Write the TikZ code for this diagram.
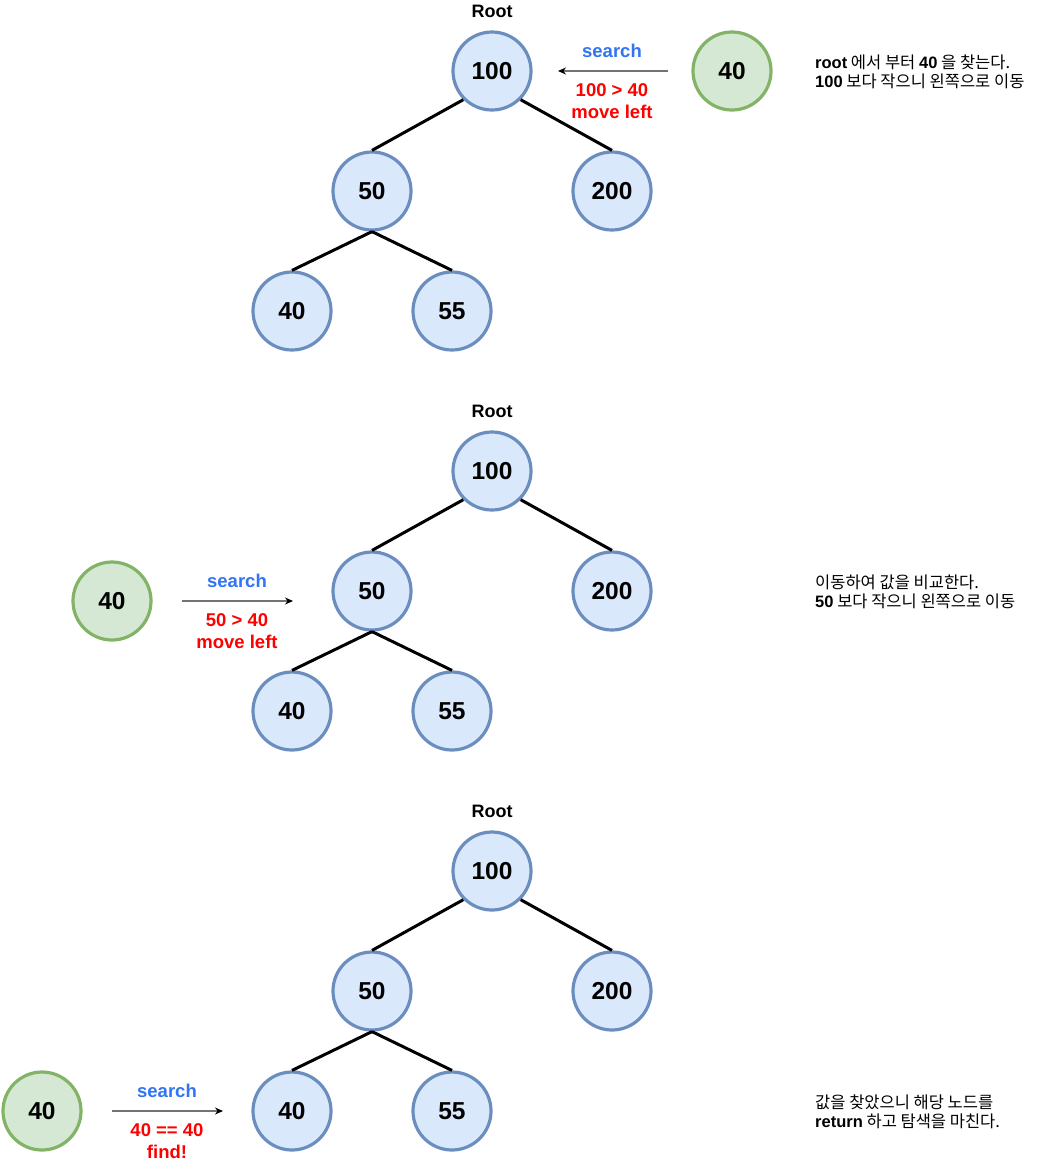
\documentclass[tikz,border=0pt]{standalone}
\usepackage{fontspec}
\setmainfont{Liberation Sans}
\newfontfamily\kr{Noto Sans CJK KR}
\usetikzlibrary{arrows.meta}
\definecolor{bfill}{HTML}{DAE8FC}
\definecolor{bline}{HTML}{6C8EBF}
\definecolor{gfill}{HTML}{D5E8D4}
\definecolor{gline}{HTML}{82B366}
\definecolor{sblue}{HTML}{3174F4}
\definecolor{sred}{HTML}{FF0000}
\newcommand\lb[1]{{\rmfamily\bfseries #1}}
\newcommand\bsttree[2]{%
  \node[rootlbl] (#1r) at (492,{11+#2}) {Root};
  \node[bnode] (#1a) at (492,{71+#2}) {100};
  \node[bnode] (#1b) at (372,{191+#2}) {50};
  \node[bnode] (#1c) at (612,{191+#2}) {200};
  \node[bnode] (#1d) at (292,{311+#2}) {40};
  \node[bnode] (#1e) at (452,{311+#2}) {55};
  \draw[edge] (#1a.225) -- (#1b.north);
  \draw[edge] (#1a.-45) -- (#1c.north);
  \draw[edge] (#1b.south) -- (#1d.north);
  \draw[edge] (#1b.south) -- (#1e.north);
}
\begin{document}
\begin{tikzpicture}[x=1pt,y=-1pt,
  bnode/.style={circle, draw=bline, fill=bfill, line width=3.2pt, minimum size=78pt, inner sep=0pt, font=\fontsize{24.5}{24.5}\selectfont\bfseries},
  gnode/.style={circle, draw=gline, fill=gfill, line width=3.2pt, minimum size=78pt, inner sep=0pt, font=\fontsize{24.5}{24.5}\selectfont\bfseries},
  rootlbl/.style={font=\fontsize{18}{18}\selectfont\bfseries, inner sep=0pt},
  edge/.style={line width=3pt, black},
  sarrow/.style={draw=black!55, line width=1.2pt, -{Stealth[black,length=8pt,width=7pt]}},
  slbl/.style={font=\fontsize{18.5}{18.5}\selectfont\bfseries, text=sblue, inner sep=0pt},
  rlbl/.style={font=\fontsize{18.5}{22}\selectfont\bfseries, text=sred, inner sep=0pt, align=center},
  note/.style={font=\kr\fontsize{16.5}{19.5}\selectfont, anchor=west, align=left, inner sep=0pt}
]
\useasboundingbox (0,0) rectangle (1053,1163);
\fill[white] (0,0) rectangle (1053,1163);

% ---- Tree 1
\bsttree{t}{0}
\node[gnode] (g1) at (732,71) {40};
\coordinate (g1s) at (668,71);
\coordinate (g1e) at (558,71);
\draw[sarrow] (g1s) -- (g1e);
\node[slbl] (s1) at (612,51) {search};
\node[rlbl] (r1) at (612,101) {100 > 40\\move left};
\node[note] (n1) at (815,72) {\lb{root} 에서 부터 \lb{40} 을 찾는다.\\\lb{100} 보다 작으니 왼쪽으로 이동};

% ---- Tree 2
\bsttree{u}{400}
\node[gnode] (g2) at (112,601) {40};
\coordinate (g2s) at (182,601);
\coordinate (g2e) at (293,601);
\draw[sarrow] (g2s) -- (g2e);
\node[slbl] (s2) at (237,581) {search};
\node[rlbl] (r2) at (237,631) {50 > 40\\move left};
\node[note] (n2) at (815,592) {이동하여 값을 비교한다.\\\lb{50} 보다 작으니 왼쪽으로 이동};

% ---- Tree 3
\bsttree{v}{800}
\node[gnode] (g3) at (42,1111) {40};
\coordinate (g3s) at (112,1111);
\coordinate (g3e) at (223,1111);
\draw[sarrow] (g3s) -- (g3e);
\node[slbl] (s3) at (167,1091) {search};
\node[rlbl] (r3) at (167,1141) {40 == 40\\find!};
\node[note] (n3) at (815,1112) {값을 찾았으니 해당 노드를\\\lb{return} 하고 탐색을 마친다.};
\end{tikzpicture}
\end{document}
